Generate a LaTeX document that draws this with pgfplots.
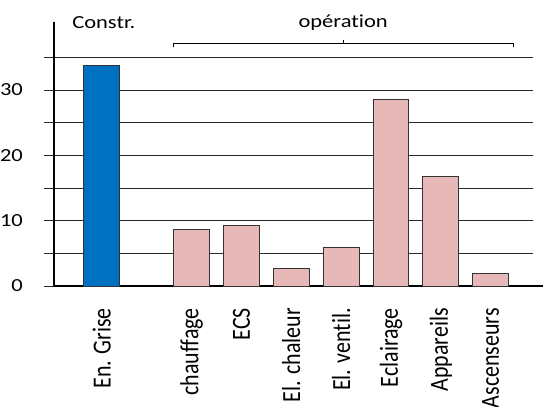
\documentclass[border=0pt]{standalone}
\usepackage{fontspec}
\setmainfont{Carlito}
\newfontfamily\widefont[FakeStretch=1.22, Ligatures=NoCommon]{Carlito}
\newfontfamily\tallfont[FakeStretch=0.84, Ligatures=NoCommon]{Carlito}
\usepackage{pgfplots}
\pgfplotsset{compat=1.18}
\definecolor{barblue}{RGB}{0,112,192}
\definecolor{barpink}{RGB}{230,184,183}
\definecolor{gridc}{RGB}{40,40,40}
\newcommand\rl[1]{{\tallfont\fontsize{26.2}{30}\selectfont #1}}
\newcommand\ul[1]{{\widefont\fontsize{18.5}{22}\selectfont #1}}
\begin{document}
\begin{tikzpicture}
\begin{axis}[
  scale only axis, width=479bp, height=264bp,
  xmin=-0.96, xmax=8.65, ymin=0, ymax=40.4,
  axis lines=left,
  axis line style={line width=1.6bp, -, black},
  xtick={0,1.8,2.8,3.8,4.8,5.8,6.8,7.8},
  xticklabels={\rl{En. Grise},\rl{chauffage},\rl{ECS},\rl{El. chaleur},\rl{El. ventil.},\rl{Eclairage},\rl{Appareils},\rl{Ascenseurs}},
  x tick label style={yshift=-12bp, rotate=90, anchor=east, inner sep=0pt},
  major x tick style={draw=none},
  ytick={0,5,10,15,20,25,30,35},
  yticklabels={\ul{0},,\ul{10},,\ul{20},,\ul{30},},
  y tick label style={xshift=-21bp, anchor=east, inner sep=0pt},
  ymajorgrids,
  grid style={gridc, line width=0.9bp},
  major y tick style={gridc, line width=0.9bp},
  tick align=outside, major tick length=10bp,
  clip=false,
]
\addplot[ybar, bar shift=0pt, bar width=0.72, fill=barblue, draw=black!80, line width=0.9bp]
  coordinates {(0,33.8)};
\addplot[ybar, bar shift=0pt, bar width=0.72, fill=barpink, draw=black!80, line width=0.9bp]
  coordinates {(1.8,8.7) (2.8,9.3) (3.8,2.7) (4.8,5.9) (5.8,28.5) (6.8,16.7) (7.8,1.9)};
\draw[black, line width=1.6bp] (axis cs:8.6,0) -- (axis cs:8.86,0);
\node[anchor=base, inner sep=0pt] at (axis cs:0.04,39.4) {\ul{Constr.}};
\node[anchor=base, inner sep=0pt] at (axis cs:4.84,39.6) {\ul{opération}};
\draw[black, line width=0.8bp] (axis cs:1.43,36.6) -- (axis cs:1.43,37.2) -- (axis cs:8.25,37.2) -- (axis cs:8.25,36.6);
\draw[black, line width=0.8bp] (axis cs:4.84,37.2) -- (axis cs:4.84,37.7);
\coordinate (O) at (rel axis cs:0,0);
\end{axis}
\pgfresetboundingbox
\path (O) ++(-54bp,-121bp) rectangle ++(544bp,407bp);
\end{tikzpicture}
\end{document}
